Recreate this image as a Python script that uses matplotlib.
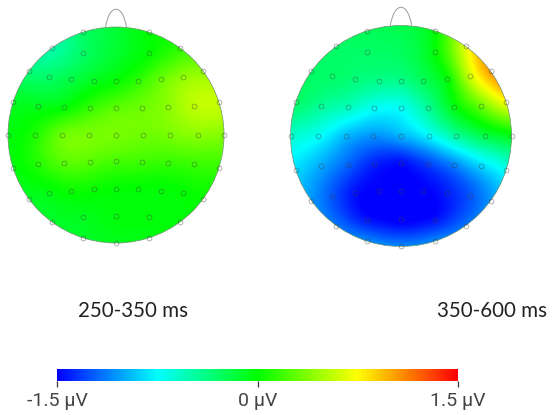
import numpy as np
import matplotlib
matplotlib.use("Agg")
import matplotlib.pyplot as plt
from matplotlib.colors import LinearSegmentedColormap, Normalize
from matplotlib.patches import Circle, PathPatch
from matplotlib.path import Path
from matplotlib.cm import ScalarMappable

plt.rcParams["font.family"] = ["Roboto", "DejaVu Sans"]

W, H = 552, 415

# electrode positions, in head radii
elec_x = [-0.31, 0.31, -0.59, 0.59, -0.31, 0.31, -0.81, 0.81,
          -0.62, -0.42, -0.20, 0.0, 0.20, 0.42, 0.62,
          -0.95, 0.95,
          -0.72, -0.48, -0.24, 0.0, 0.24, 0.48, 0.72,
          -1.0, -0.75, -0.50, -0.25, 0.0, 0.25, 0.50, 0.76, 1.0,
          -0.95, -0.72, -0.48, -0.24, 0.0, 0.24, 0.48, 0.72, 0.95,
          -0.81, -0.62, -0.42, -0.20, 0.0, 0.20, 0.42, 0.62, 0.81,
          -0.59, -0.31, 0.0, 0.31, 0.59,
          -0.31, 0.0, 0.31]
elec_y = [0.95, 0.95, 0.81, 0.81, 0.76, 0.76, 0.59, 0.59,
          0.54, 0.52, 0.50, 0.50, 0.50, 0.52, 0.54,
          0.31, 0.31,
          0.27, 0.26, 0.25, 0.25, 0.25, 0.26, 0.27,
          0.0, 0.0, 0.0, 0.0, 0.0, 0.0, 0.0, 0.0, 0.0,
          -0.31, -0.27, -0.26, -0.25, -0.24, -0.25, -0.26, -0.27, -0.31,
          -0.59, -0.54, -0.52, -0.50, -0.50, -0.50, -0.52, -0.54, -0.59,
          -0.81, -0.76, -0.75, -0.76, -0.81,
          -0.95, -1.0, -0.95]

# amplitude at each electrode, microvolts
vals_early = [-0.30, 0.00, -0.50, 0.12, -0.30, 0.00, -0.35, 0.42,
              -0.30, -0.20, -0.08, 0.00, 0.13, 0.30, 0.42,
              -0.10, 0.58,
              -0.08, -0.02, 0.15, 0.27, 0.32, 0.40, 0.55,
              -0.05, 0.08, 0.32, 0.35, 0.35, 0.32, 0.35, 0.40, 0.38,
              -0.03, 0.10, 0.25, 0.25, 0.20, 0.18, 0.15, 0.17, 0.15,
              -0.10, -0.05, 0.03, 0.02, 0.00, -0.01, -0.02, 0.00, 0.02,
              -0.12, -0.08, -0.02, -0.02, -0.02,
              -0.12, -0.08, -0.05]
vals_late = [-0.25, 0.00, -0.30, 0.70, -0.30, 0.00, -0.30, 1.05,
             -0.30, -0.35, -0.40, -0.40, -0.25, 0.00, 0.60,
             -0.30, 0.75,
             -0.45, -0.55, -0.72, -0.72, -0.45, -0.05, 0.30,
             -0.60, -0.72, -0.95, -1.05, -0.95, -0.75, -0.45, -0.20, -0.05,
             -0.85, -1.00, -1.20, -1.40, -1.45, -1.30, -1.10, -0.85, -0.70,
             -1.05, -1.25, -1.45, -1.50, -1.50, -1.50, -1.40, -1.25, -1.05,
             -1.15, -1.45, -1.55, -1.45, -1.15,
             -1.10, -1.10, -1.10]

map_labels = ["250-350 ms", "350-600 ms"]
bar_ticks = [-1.5, 0, 1.5]
bar_labels = ["-1.5 µV", "0 µV", "1.5 µV"]

cmap = LinearSegmentedColormap.from_list(
    "topo", ["#0000ff", "#00ffff", "#00ff00", "#ffff00", "#ff0000"])
norm = Normalize(-1.5, 1.5)
GRAY = "#9a9a9a"


def spline_map(x, y, v, n=260):
    # thin plate spline through the electrode values
    x, y, v = map(np.asarray, (x, y, v))
    def kern(r):
        return r ** 2 * np.log(r + 1e-9)
    r = np.hypot(x[:, None] - x, y[:, None] - y)
    P = np.column_stack([np.ones_like(x), x, y])
    k = len(x)
    A = np.block([[kern(r) + 0.002 * np.eye(k), P], [P.T, np.zeros((3, 3))]])
    w = np.linalg.solve(A, np.r_[v, 0, 0, 0])
    gx, gy = np.meshgrid(np.linspace(-1, 1, n), np.linspace(-1, 1, n))
    d = np.hypot(gx[..., None] - x, gy[..., None] - y)
    return kern(d) @ w[:k] + w[k] + w[k + 1] * gx + w[k + 2] * gy


def px_axes(fig, cx, cy, half):
    # axes square around a head centre given in image pixels
    ax = fig.add_axes([(cx - half) / W, 1 - (cy + half) / H,
                       2 * half / W, 2 * half / H])
    ax.axis("off")
    return ax


def draw_head(fig, cx, cy, radius, values):
    ax = px_axes(fig, cx, cy, radius * 1.25)
    im = ax.imshow(spline_map(elec_x, elec_y, values), origin="lower",
                   extent=(-1, 1, -1, 1), cmap=cmap, norm=norm,
                   interpolation="bilinear", zorder=1)
    im.set_clip_path(Circle((0, 0), 1, transform=ax.transData))
    ax.set_xlim(-1.25, 1.25)
    ax.set_ylim(-1.25, 1.25)
    ax.add_patch(Circle((0, 0), 1, fill=False, ec="#6f8f6f", lw=0.5, zorder=2))
    ear = Path([(-0.097, 1.0), (-0.06, 1.22), (0.06, 1.22), (0.097, 1.0)],
               [Path.MOVETO, Path.CURVE4, Path.CURVE4, Path.CURVE4])
    ax.add_patch(PathPatch(ear, fill=False, ec=GRAY, lw=0.7, zorder=2))
    ax.plot(elec_x, elec_y, "o", ms=3.5, mfc="none", mec=(0.25, 0.25, 0.25, 0.55),
            mew=0.5, zorder=3, clip_on=False)


fig = plt.figure(figsize=(W / 100, H / 100), dpi=100)

draw_head(fig, 116, 135, 108, vals_early)
draw_head(fig, 401, 136, 110.5, vals_late)

fig.text(133.5 / W, 1 - 311 / H, map_labels[0], family="Lato", fontsize=14.8,
         ha="center", va="center", color="#222222")
fig.text(492 / W, 1 - 311 / H, map_labels[1], family="Lato", fontsize=14.8,
         ha="center", va="center", color="#222222")

cax = fig.add_axes([57 / W, 1 - 381 / H, 401 / W, 12 / H])
cb = fig.colorbar(ScalarMappable(norm=norm, cmap=cmap), cax=cax,
                  orientation="horizontal")
cb.set_ticks(bar_ticks, labels=bar_labels)
cb.outline.set_visible(False)
cax.tick_params(length=4, width=0.9, color="#333333", pad=4,
                labelsize=14, labelcolor="#444444")

fig.savefig("out.png", dpi=100)
